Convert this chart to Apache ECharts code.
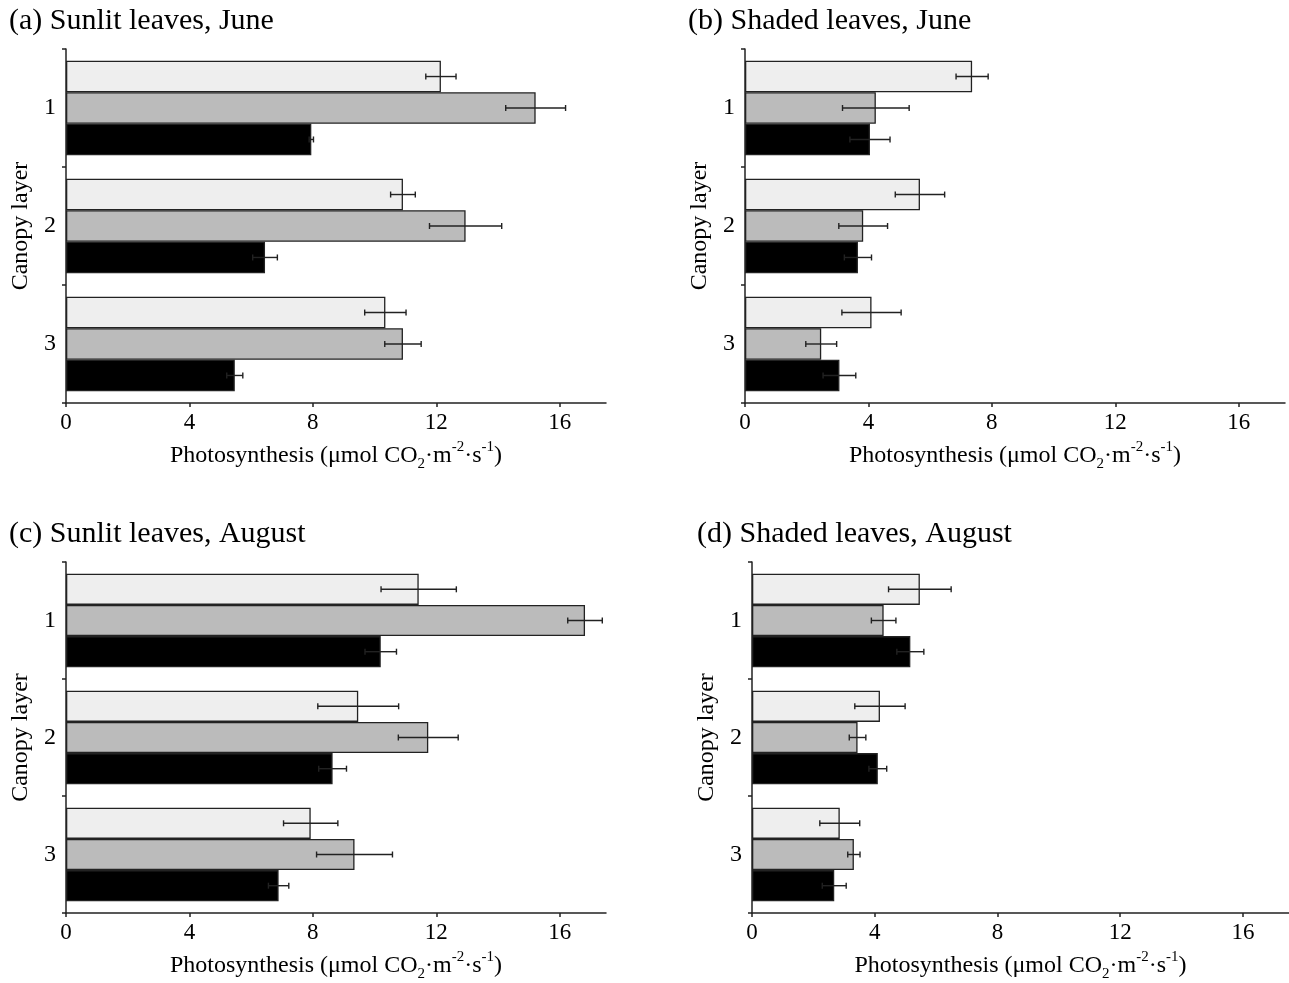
<!DOCTYPE html>
<html>
<head>
<meta charset="utf-8">
<script src="https://cdn.jsdelivr.net/npm/echarts@6/dist/echarts.min.js"></script>
<style>html,body{margin:0;padding:0;background:#fff;}#c{width:1289px;height:983px;}</style>
</head>
<body>
<div id="c"></div>
<script>
// ---- data ----
const categories = ['1', '2', '3'];
const xTicks = [0, 4, 8, 12, 16];
const panelTitles = ['(a) Sunlit leaves, June', '(b) Shaded leaves, June', '(c) Sunlit leaves, August', '(d) Shaded leaves, August'];

const sunJuneLight = [12.15, 10.92, 10.35];
const sunJuneLightErr = [0.49, 0.40, 0.67];
const sunJuneGrey = [15.22, 12.95, 10.92];
const sunJuneGreyErr = [0.97, 1.17, 0.59];
const sunJuneBlack = [7.95, 6.45, 5.47];
const sunJuneBlackErr = [0.07, 0.40, 0.26];

const shadeJuneLight = [7.36, 5.67, 4.10];
const shadeJuneLightErr = [0.52, 0.80, 0.96];
const shadeJuneGrey = [4.24, 3.83, 2.47];
const shadeJuneGreyErr = [1.08, 0.79, 0.50];
const shadeJuneBlack = [4.05, 3.66, 3.06];
const shadeJuneBlackErr = [0.65, 0.44, 0.53];

const sunAugLight = [11.43, 9.47, 7.93];
const sunAugLightErr = [1.22, 1.31, 0.88];
const sunAugGrey = [16.82, 11.74, 9.35];
const sunAugGreyErr = [0.56, 0.97, 1.23];
const sunAugBlack = [10.20, 8.64, 6.89];
const sunAugBlackErr = [0.51, 0.45, 0.33];

const shadeAugLight = [5.47, 4.17, 2.86];
const shadeAugLightErr = [1.02, 0.82, 0.65];
const shadeAugGrey = [4.29, 3.44, 3.32];
const shadeAugGreyErr = [0.40, 0.27, 0.20];
const shadeAugBlack = [5.16, 4.10, 2.68];
const shadeAugBlackErr = [0.44, 0.29, 0.39];

const panels = [
  {means: [sunJuneLight, sunJuneGrey, sunJuneBlack], errs: [sunJuneLightErr, sunJuneGreyErr, sunJuneBlackErr]},
  {means: [shadeJuneLight, shadeJuneGrey, shadeJuneBlack], errs: [shadeJuneLightErr, shadeJuneGreyErr, shadeJuneBlackErr]},
  {means: [sunAugLight, sunAugGrey, sunAugBlack], errs: [sunAugLightErr, sunAugGreyErr, sunAugBlackErr]},
  {means: [shadeAugLight, shadeAugGrey, shadeAugBlack], errs: [shadeAugLightErr, shadeAugGreyErr, shadeAugBlackErr]}
];

// ---- layout / style ----
const FONT = '"Liberation Serif", "Times New Roman", serif';
const barColors = ['#eeeeee', '#bbbbbb', '#000000'];
const grids = [
  {left: 66, top: 49, width: 540, height: 354},
  {left: 745, top: 49, width: 540, height: 354},
  {left: 66, top: 562, width: 540, height: 352},
  {left: 752, top: 562, width: 537, height: 352}
];
const titlePos = [
  {left: 9, top: 6}, {left: 688, top: 6}, {left: 9, top: 519}, {left: 697, top: 519}
];
const CAT_GAP = 0.2;

const xName = '{a|Photosynthesis (μmol CO}{sub|2}{a|·m}{sup|-2}{a|·s}{sup|-1}{a|)}';

const option = {
  backgroundColor: '#fff',
  animation: false,
  textStyle: {fontFamily: FONT},
  title: panelTitles.map((t, i) => ({
    text: t, left: titlePos[i].left, top: titlePos[i].top, padding: 0,
    textStyle: {fontFamily: FONT, fontSize: 30, fontWeight: 'normal', color: '#000'}
  })),
  grid: grids,
  xAxis: grids.map((g, i) => ({
    type: 'value', gridIndex: i, min: 0, max: 17.5, interval: 4,
    name: xName, nameLocation: 'middle', nameGap: 37,
    nameTextStyle: {
      rich: {
        a: {fontFamily: FONT, fontSize: 24, color: '#000', lineHeight: 32, verticalAlign: 'middle'},
        sub: {fontFamily: FONT, fontSize: 15, color: '#000', verticalAlign: 'bottom', lineHeight: 15},
        sup: {fontFamily: FONT, fontSize: 15, color: '#000', verticalAlign: 'top', lineHeight: 15}
      }
    },
    axisLine: {show: true, lineStyle: {color: '#222', width: 1.5}},
    axisTick: {show: true, length: 4, lineStyle: {color: '#222', width: 1.5}, customValues: xTicks},
    axisLabel: {fontFamily: FONT, fontSize: 23, color: '#000', margin: 8, customValues: xTicks},
    splitLine: {show: false}
  })),
  yAxis: grids.map((g, i) => ({
    type: 'category', gridIndex: i, data: categories, inverse: true,
    name: 'Canopy layer', nameLocation: 'middle', nameGap: 33, nameRotate: 90,
    nameTextStyle: {fontFamily: FONT, fontSize: 24, color: '#000'},
    axisLine: {show: true, lineStyle: {color: '#222', width: 1.5}},
    axisTick: {show: true, length: 4, lineStyle: {color: '#222', width: 1.5}},
    axisLabel: {fontFamily: FONT, fontSize: 24, color: '#000', margin: 10}
  })),
  series: []
};

panels.forEach((p, pi) => {
  p.means.forEach((m, si) => {
    option.series.push({
      type: 'bar', xAxisIndex: pi, yAxisIndex: pi, data: m,
      barCategoryGap: (CAT_GAP * 100) + '%', barGap: '0%',
      itemStyle: {color: barColors[si], borderColor: '#222', borderWidth: 1.3},
      z: 2
    });
  });
  const errData = [];
  p.means.forEach((m, si) => {
    m.forEach((v, ci) => errData.push([ci, si, v, p.errs[si][ci]]));
  });
  option.series.push({
    type: 'custom', xAxisIndex: pi, yAxisIndex: pi, z: 5,
    encode: {x: 2, y: 0},
    data: errData,
    renderItem: function (params, api) {
      const ci = api.value(0), si = api.value(1), mean = api.value(2), e = api.value(3);
      const c = api.coord([mean, ci]);
      const band = api.size([0, 1])[1];
      const bw = band * (1 - CAT_GAP) / 3;
      const y = c[1] - band * (1 - CAT_GAP) / 2 + (si + 0.5) * bw;
      const x1 = api.coord([mean - e, ci])[0];
      const x2 = api.coord([mean + e, ci])[0];
      const h = 3;
      const style = {stroke: '#222', lineWidth: 1.4};
      return {
        type: 'group',
        children: [
          {type: 'line', shape: {x1: x1, y1: y, x2: x2, y2: y}, style: style},
          {type: 'line', shape: {x1: x1, y1: y - h, x2: x1, y2: y + h}, style: style},
          {type: 'line', shape: {x1: x2, y1: y - h, x2: x2, y2: y + h}, style: style}
        ]
      };
    }
  });
});

const chart = echarts.init(document.getElementById('c'), null, {renderer: 'canvas'});
chart.setOption(option);
</script>
</body>
</html>
